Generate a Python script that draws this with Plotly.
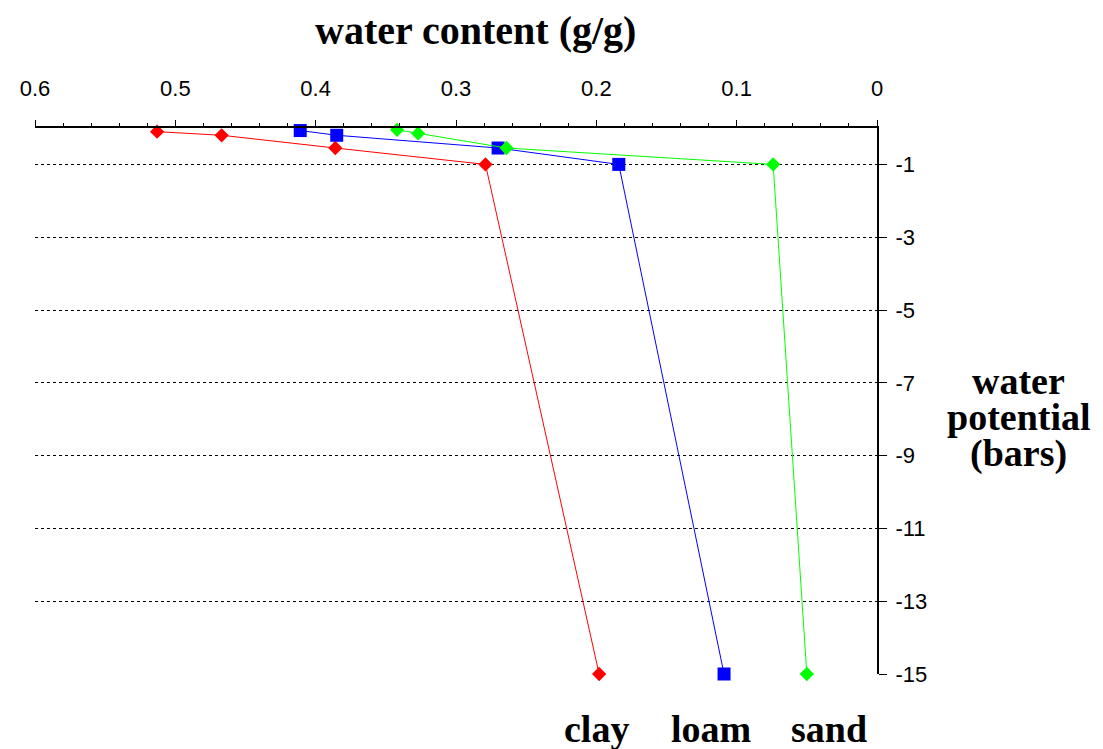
import plotly.graph_objects as go

# ---- data ----
clay_water = [0.513, 0.467, 0.386, 0.279, 0.198]
clay_potential = [-0.1, -0.2, -0.55, -1.0, -15.0]

loam_water = [0.411, 0.385, 0.270, 0.184, 0.109]
loam_potential = [-0.07, -0.2, -0.55, -1.0, -15.0]

sand_water = [0.342, 0.327, 0.264, 0.074, 0.050]
sand_potential = [-0.05, -0.15, -0.55, -1.0, -15.0]

x_tick_vals = [0.6, 0.5, 0.4, 0.3, 0.2, 0.1, 0]
x_tick_text = ["0.6", "0.5", "0.4", "0.3", "0.2", "0.1", "0"]
y_tick_vals = [-1, -3, -5, -7, -9, -11, -13, -15]
y_tick_text = ["-1", "-3", "-5", "-7", "-9", "-11", "-13", "-15"]

soil_names = ["clay", "loam", "sand"]

# page body has an 8px margin, so figure coords = screen coords - 8
OFF = 8
W, H = 1103 - OFF, 749 - OFF
L, R, T, B = 27 - OFF, 877 - OFF, 128 - OFF, 674 - OFF

fig = go.Figure()
fig.add_trace(go.Scatter(x=clay_water, y=clay_potential, mode="lines+markers",
                         line=dict(color="#ff0000", width=1),
                         marker=dict(symbol="diamond", size=11, color="#ff0000"),
                         name=soil_names[0], showlegend=False, cliponaxis=False))
fig.add_trace(go.Scatter(x=loam_water, y=loam_potential, mode="lines+markers",
                         line=dict(color="#0000ff", width=1),
                         marker=dict(symbol="square", size=13, color="#0000ff"),
                         name=soil_names[1], showlegend=False, cliponaxis=False))
fig.add_trace(go.Scatter(x=sand_water, y=sand_potential, mode="lines+markers",
                         line=dict(color="#00ff00", width=1),
                         marker=dict(symbol="diamond", size=11, color="#00ff00"),
                         name=soil_names[2], showlegend=False, cliponaxis=False))

fig.update_layout(
    width=W, height=H,
    margin=dict(l=L, r=W - R, t=T, b=H - B),
    paper_bgcolor="white", plot_bgcolor="white",
    font=dict(family="Liberation Sans, Arial, sans-serif", size=22, color="black"),
    xaxis=dict(
        side="top", range=[0.6, 0], autorange=False,
        tickvals=x_tick_vals, ticktext=x_tick_text,
        ticks="outside", ticklen=6, tickwidth=1, tickcolor="black",
        showgrid=False, zeroline=False,
        showline=True, linecolor="black", linewidth=2,
        ticklabelstandoff=15,
        minor=dict(dtick=0.02, tick0=0, ticks="outside", ticklen=3,
                   tickcolor="black", tickwidth=1, showgrid=False),
    ),
    yaxis=dict(
        side="right", range=[-15, 0], autorange=False,
        tickvals=y_tick_vals, ticktext=y_tick_text,
        ticks="outside", ticklen=8, tickwidth=1, tickcolor="black",
        showgrid=True, gridcolor="black", gridwidth=1, griddash="dot",
        zeroline=False,
        showline=True, linecolor="black", linewidth=2,
        ticklabelstandoff=4,
    ),
)

serif = "Liberation Serif, Times New Roman, serif"

def px_x(px):
    return (px - OFF - L) / (R - L)

def px_y(py):
    return (B - (py - OFF)) / (B - T)

anns = [
    ("water content (g/g)", 472, 31, 40),
    ("water", 1020, 381, 38),
    ("potential", 1020, 417, 38),
    ("(bars)", 1020, 453, 38),
    (soil_names[0], 594, 729, 38),
    (soil_names[1], 709, 729, 38),
    (soil_names[2], 829, 729, 38),
]
for txt, x, y, sz in anns:
    fig.add_annotation(text="<b>" + txt + "</b>", xref="paper", yref="paper",
                       x=px_x(x), y=px_y(y), xanchor="center", yanchor="middle",
                       showarrow=False,
                       font=dict(family=serif, size=sz, color="black"))

fig.write_html("out.html")
